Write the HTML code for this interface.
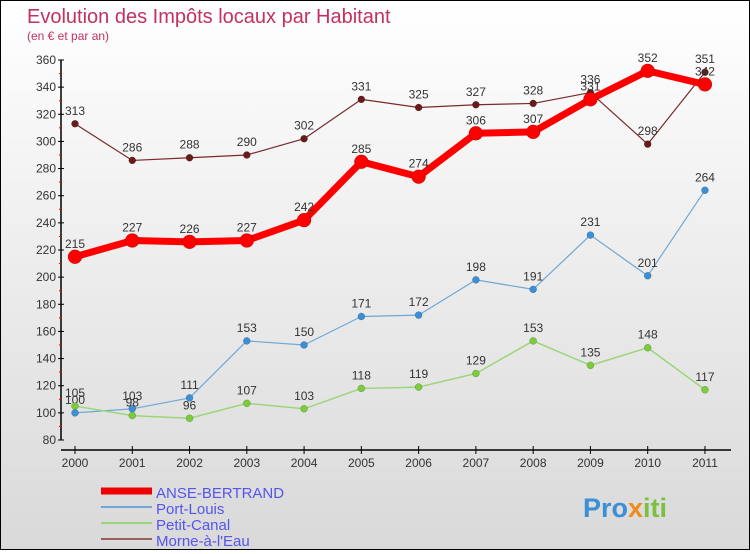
<!DOCTYPE html>
<html><head><meta charset="utf-8"><style>
html,body{margin:0;padding:0}
body{width:750px;height:550px;overflow:hidden;font-family:"Liberation Sans",sans-serif}
#wrap{position:relative;width:748px;height:548px;border:1px solid #000;background:linear-gradient(#ffffff,#d9d9d9)}
</style></head><body>
<div id="wrap">
<svg id="chart" width="748" height="548" xmlns="http://www.w3.org/2000/svg">
<text x="26" y="22" font-size="20" fill="#c2325e">Evolution des Impôts locaux par Habitant</text>
<text x="26" y="39" font-size="12" fill="#c2325e">(en € et par an)</text>
<g id="axes"></g><g id="series"></g><g id="legend"></g>
<text x="582" y="516" font-size="27" font-weight="bold" fill="#3a8fd6">Pro<tspan fill="#f08a1c">x</tspan><tspan fill="#7bc043">iti</tspan></text>
</svg>
</div>
<script>
const years=[2000,2001,2002,2003,2004,2005,2006,2007,2008,2009,2010,2011];
const anse=[215,227,226,227,242,285,274,306,307,331,352,342];
const portLouis=[100,103,111,153,150,171,172,198,191,231,201,264];
const petitCanal=[105,98,96,107,103,118,119,129,153,135,148,117];
const morne=[313,286,288,290,302,331,325,327,328,336,298,351];
const yTicks=[80,100,120,140,160,180,200,220,240,260,280,300,320,340,360];
const NS="http://www.w3.org/2000/svg";
function X(i){return 74+i*57.27;}
function Y(v){return 439-(v-80)*(380/280);}
function mk(t,a,p){const e=document.createElementNS(NS,t);for(const k in a)e.setAttribute(k,a[k]);p.appendChild(e);return e;}
const ax=document.getElementById('axes');
const yl=mk('line',{x1:60,y1:Y(360),x2:60,y2:Y(80),stroke:'#000','stroke-width':1.5},ax);


yTicks.forEach(v=>{
 mk('line',{x1:57,x2:63,y1:Y(v),y2:Y(v),stroke:'#000'},ax);
 if(v<360) mk('line',{x1:58,x2:61,y1:Y(v+10),y2:Y(v+10),stroke:'#e00'},ax);
 const t=mk('text',{x:55,y:Y(v)+4,'text-anchor':'end','font-size':12,fill:'#333'},ax);t.textContent=v;
 
 
});
const xl=mk('line',{x1:60,y1:449,x2:730,y2:449,stroke:'#000','stroke-width':1.5},ax);


years.forEach((y,i)=>{
 mk('line',{x1:X(i),x2:X(i),y1:445,y2:453,stroke:'#000'},ax);
 const t=mk('text',{x:X(i),y:466,'text-anchor':'middle','font-size':12,fill:'#333'},ax);t.textContent=y;
 
 
});
const sg=document.getElementById('series');
function series(d,color,w,r,name,dot){
 const g=mk('g',{},sg);
 
 
 mk('polyline',{points:d.map((v,i)=>X(i)+','+Y(v)).join(' '),fill:'none',stroke:color,'stroke-width':w,'stroke-linejoin':'round'},g);
 d.forEach((v,i)=>{
  const c=mk('circle',{cx:X(i),cy:Y(v),r:r,fill:dot,stroke:'rgba(0,0,0,0.3)','stroke-width':0.5},g);
  
  
  const t=mk('text',{x:X(i),y:Y(v)-9,'text-anchor':'middle','font-size':12,fill:'#333'},g);t.textContent=v;
  
  
 });
}
series(morne,'#7a2a2a',1.2,3.5,'morne-a-l-eau-series','#6b1a1a');
series(portLouis,'#6fa8d6',1.2,3.5,'port-louis-series','#3a8fd6');
series(petitCanal,'#9bd67a',1.5,3.5,'petit-canal-series','#7bcc3a');
series(anse,'#ff0000',7,7,'anse-bertrand-series','#ff0000');
const lg=document.getElementById('legend');
const items=[['ANSE-BERTRAND','#ee0000',7,498],['Port-Louis','#6fa8d6',2,514],['Petit-Canal','#9bd67a',2,530],['Morne-à-l\'Eau','#9a6060',2,546]];
items.forEach(it=>{
 const g=mk('g',{},lg);
 
 
 mk('line',{x1:100,x2:151,y1:it[3]-8,y2:it[3]-8,stroke:it[1],'stroke-width':it[2]},g);
 const t=mk('text',{x:155,y:it[3]-1,'font-size':15,fill:'#5555ee'},g);t.textContent=it[0];
});
</script>
</body></html>
